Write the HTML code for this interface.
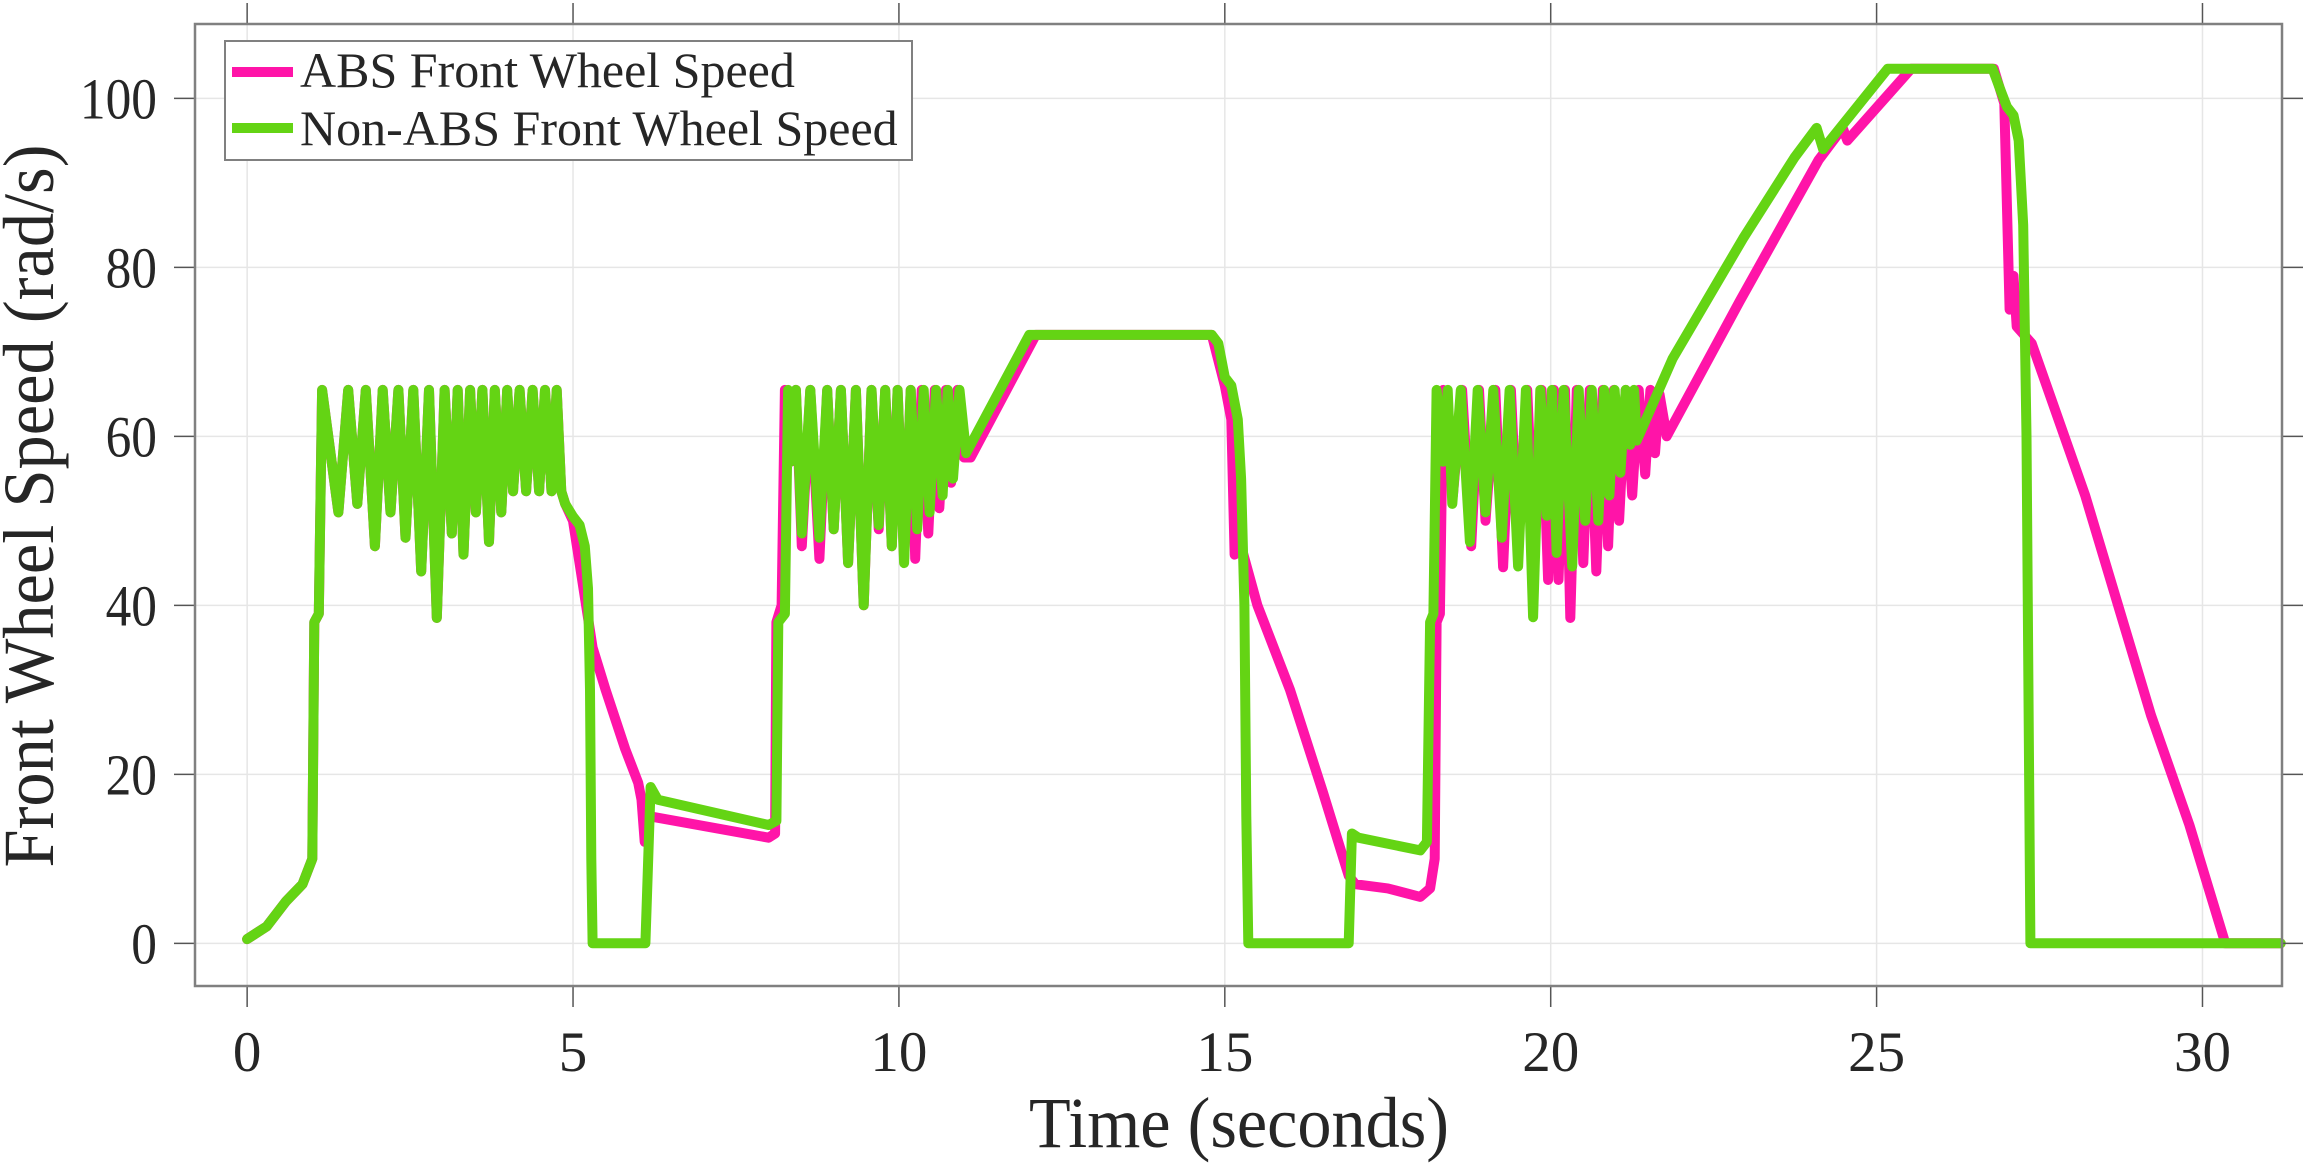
<!DOCTYPE html>
<html><head><meta charset="utf-8"><style>
html,body{margin:0;padding:0;background:#fff;}
svg{display:block;font-family:"Liberation Serif",serif;}
</style></head><body>
<svg id="chart" width="2306" height="1163" viewBox="0 0 2306 1163" xmlns="http://www.w3.org/2000/svg">
<rect x="0" y="0" width="2306" height="1163" fill="#fff"/>
<g id="grid"></g>
<g id="series"></g>
<g id="axes"></g>
<text x="53" y="506" transform="rotate(-90 53 506)" text-anchor="middle" font-size="72" fill="#262626" textLength="723" lengthAdjust="spacingAndGlyphs">Front Wheel Speed (rad/s)</text>
<text x="1239" y="1147" text-anchor="middle" font-size="72" fill="#262626" textLength="420" lengthAdjust="spacingAndGlyphs">Time (seconds)</text>
<g>
<rect x="225" y="41" width="687" height="119" fill="#fff" stroke="#808080" stroke-width="2"/>
<line x1="232" y1="72" x2="293" y2="72" stroke="#ff14a8" stroke-width="10"/>
<text x="300" y="87" font-size="50" fill="#262626">ABS Front Wheel Speed</text>
<line x1="232" y1="128" x2="293" y2="128" stroke="#64d414" stroke-width="10"/>
<text x="300" y="145" font-size="50" fill="#262626">Non-ABS Front Wheel Speed</text>
</g>
</svg>
<script>
const xTicks=[0,5,10,15,20,25,30];
const yTicks=[0,20,40,60,80,100];
const xTickLabels=["0","5","10","15","20","25","30"];
const yTickLabels=["0","20","40","60","80","100"];
const nonAbsT=[0,0.3,0.6,0.85,1.0,1.03,1.1,1.15,1.40,1.55,1.69,1.82,1.96,2.08,2.20,2.32,2.43,2.55,2.67,2.79,2.91,3.03,3.14,3.23,3.32,3.42,3.51,3.61,3.71,3.80,3.90,3.99,4.08,4.18,4.28,4.38,4.48,4.57,4.67,4.75,4.82,4.88,5.0,5.1,5.18,5.23,5.26,5.28,5.30,6.11,6.19,6.3,8.0,8.12,8.15,8.25,8.3,8.34,8.42,8.51,8.64,8.78,8.9,9.0,9.11,9.22,9.34,9.46,9.58,9.69,9.79,9.89,9.98,10.08,10.18,10.28,10.38,10.47,10.57,10.67,10.75,10.83,10.93,11.03,12.0,14.8,14.9,15.0,15.1,15.2,15.25,15.3,15.33,15.36,16.9,16.95,17.05,18.0,18.1,18.15,18.2,18.25,18.35,18.42,18.49,18.62,18.76,18.88,19.0,19.12,19.25,19.37,19.5,19.62,19.73,19.84,19.94,20.02,20.09,20.2,20.33,20.43,20.53,20.63,20.73,20.82,20.9,20.98,21.07,21.15,21.22,21.28,21.32,21.87,22.95,23.74,24.08,24.18,25.17,26.78,26.9,27.0,27.1,27.18,27.25,27.3,27.36,31.2];
const nonAbsV=[0.5,2,5,7,10,38,39,65.5,51,65.5,52,65.5,47,65.5,51,65.5,48,65.5,44,65.5,38.5,65.5,48.5,65.5,46,65.5,51,65.5,47.5,65.5,51,65.5,53.5,65.5,53.5,65.5,53.5,65.5,53.5,65.5,53.5,52,50.5,49.5,47,42,30,10,0,0,18.5,17,14,14.5,38,39,65.5,57,65.5,48.5,65.5,48,65.5,49,65.5,45,65.5,40,65.5,49.5,65.5,47,65.5,45,65.5,49,65.5,51,65.5,53,65.5,55,65.5,58,72,72,71,67,66,62,55,40,15,0,0,13,12.5,11,12,38,39,65.5,57,65.5,52,65.5,47.5,65.5,51,65.5,48,65.5,44.6,65.5,38.6,65.5,50.6,65.5,46.2,65.5,44.6,65.5,50,65.5,50,65.5,53,65.5,55.7,65.5,59,65.5,59.5,69.2,83.4,93,96.5,94,103.5,103.5,101,99,98,95,85,60,0,0];
const absT=[0,0.3,0.6,0.85,1.0,1.03,1.1,1.15,1.40,1.55,1.69,1.82,1.96,2.08,2.20,2.32,2.43,2.55,2.67,2.79,2.91,3.03,3.14,3.23,3.32,3.42,3.51,3.61,3.71,3.80,3.90,3.99,4.08,4.18,4.28,4.38,4.48,4.57,4.67,4.75,4.82,4.88,5.0,5.2,5.3,5.5,5.8,6.0,6.05,6.1,6.12,6.2,8.0,8.1,8.12,8.2,8.25,8.34,8.42,8.51,8.64,8.78,8.9,9.0,9.11,9.22,9.34,9.46,9.58,9.69,9.79,9.89,9.98,10.08,10.18,10.25,10.35,10.45,10.55,10.62,10.72,10.8,10.9,11.0,11.1,12.1,14.8,15.0,15.1,15.15,15.25,15.5,16.0,16.5,16.9,17.0,17.5,18.0,18.15,18.22,18.25,18.3,18.35,18.5,18.64,18.78,18.9,19.0,19.15,19.27,19.39,19.5,19.64,19.75,19.86,19.96,20.05,20.12,20.22,20.3,20.4,20.5,20.6,20.7,20.8,20.88,20.97,21.05,21.15,21.25,21.35,21.45,21.53,21.6,21.67,21.78,22.9,24.11,24.48,24.55,25.53,26.8,26.96,27.04,27.1,27.15,27.38,28.2,29.21,29.8,30.35,31.2];
const absV=[0.5,2,5,7,10,38,39,65.5,51,65.5,52,65.5,47,65.5,51,65.5,48,65.5,44,65.5,38.5,65.5,48.5,65.5,46,65.5,51,65.5,47.5,65.5,51,65.5,53.5,65.5,53.5,65.5,53.5,65.5,53.5,65.5,53.5,52,50,40,35,30,23,19,17,12,15.5,15,12.5,13,38,40,65.5,57,65.5,47,65.5,45.5,65.5,49,65.5,45,65.5,40,65.5,49,65.5,47,65.5,45.5,65.5,45.5,65.5,48.5,65.5,51.5,65.5,54.5,65.5,57.5,57.5,72,72,66,62,46,47,40,30,18,8,7,6.5,5.5,6.5,10,38,39,65.5,53,65.5,47,65.5,50,65.5,44.5,65.5,47,65.5,46,65.5,43,65.5,43,65.5,38.5,65.5,45,65.5,44,65.5,47,65.5,50,65.5,53,65.5,55.5,65.5,58,65,60,76,92.7,96.5,95,103.5,103.5,99.4,75,79,73,71,53,27,14,0,0];

const NS="http://www.w3.org/2000/svg";
const L=195,R=2282,T=24,B=986;
const xMin=-0.8,xMax=31.22,yMin=-5.05,yMax=108.8;
function sx(t){return L+(t-xMin)/(xMax-xMin)*(R-L);}
function sy(v){return B-(v-yMin)/(yMax-yMin)*(B-T);}
function mk(tag,attrs,parent){const e=document.createElementNS(NS,tag);for(const k in attrs)e.setAttribute(k,attrs[k]);parent.appendChild(e);return e;}
const grid=document.getElementById('grid'),axes=document.getElementById('axes'),series=document.getElementById('series');
xTicks.forEach((t,i)=>{
  const g=mk('line',{x1:sx(t),x2:sx(t),y1:T,y2:B,stroke:'#e6e6e6','stroke-width':1.5},grid);
  
  
  const a=mk('line',{x1:sx(t),x2:sx(t),y1:B,y2:B+21,stroke:'#555','stroke-width':1.5},axes);
  
  
  const b=mk('line',{x1:sx(t),x2:sx(t),y1:T,y2:T-21,stroke:'#555','stroke-width':1.5},axes);
  
  
  const lb=mk('text',{x:sx(t),y:1071,'text-anchor':'middle','font-size':57,fill:'#262626'},axes);
  lb.textContent=xTickLabels[i];
  
  
});
yTicks.forEach((v,i)=>{
  const g=mk('line',{x1:L,x2:R,y1:sy(v),y2:sy(v),stroke:'#e6e6e6','stroke-width':1.5},grid);
  
  
  const a=mk('line',{x1:L-21,x2:L,y1:sy(v),y2:sy(v),stroke:'#555','stroke-width':1.5},axes);
  
  
  const b=mk('line',{x1:R,x2:R+21,y1:sy(v),y2:sy(v),stroke:'#555','stroke-width':1.5},axes);
  
  
  const lb=mk('text',{x:157,y:sy(v)+20,'text-anchor':'end','font-size':58,fill:'#262626',textLength:25.7*yTickLabels[i].length,lengthAdjust:'spacingAndGlyphs'},axes);
  lb.textContent=yTickLabels[i];
  
  
});
const box=mk('rect',{x:L,y:T,width:R-L,height:B-T,fill:'none',stroke:'#808080','stroke-width':2.5},axes);


function line(ts,vs,color){
  let d='';for(let i=0;i<ts.length;i++)d+=(i?'L':'M')+sx(ts[i]).toFixed(1)+' '+sy(vs[i]).toFixed(1);
  return mk('path',{d:d,fill:'none',stroke:color,'stroke-width':10,'stroke-linejoin':'round','stroke-linecap':'round'},series);
}
const p1=line(absT,absV,'#ff14a8');


const p2=line(nonAbsT,nonAbsV,'#64d414');


</script>
</body></html>
